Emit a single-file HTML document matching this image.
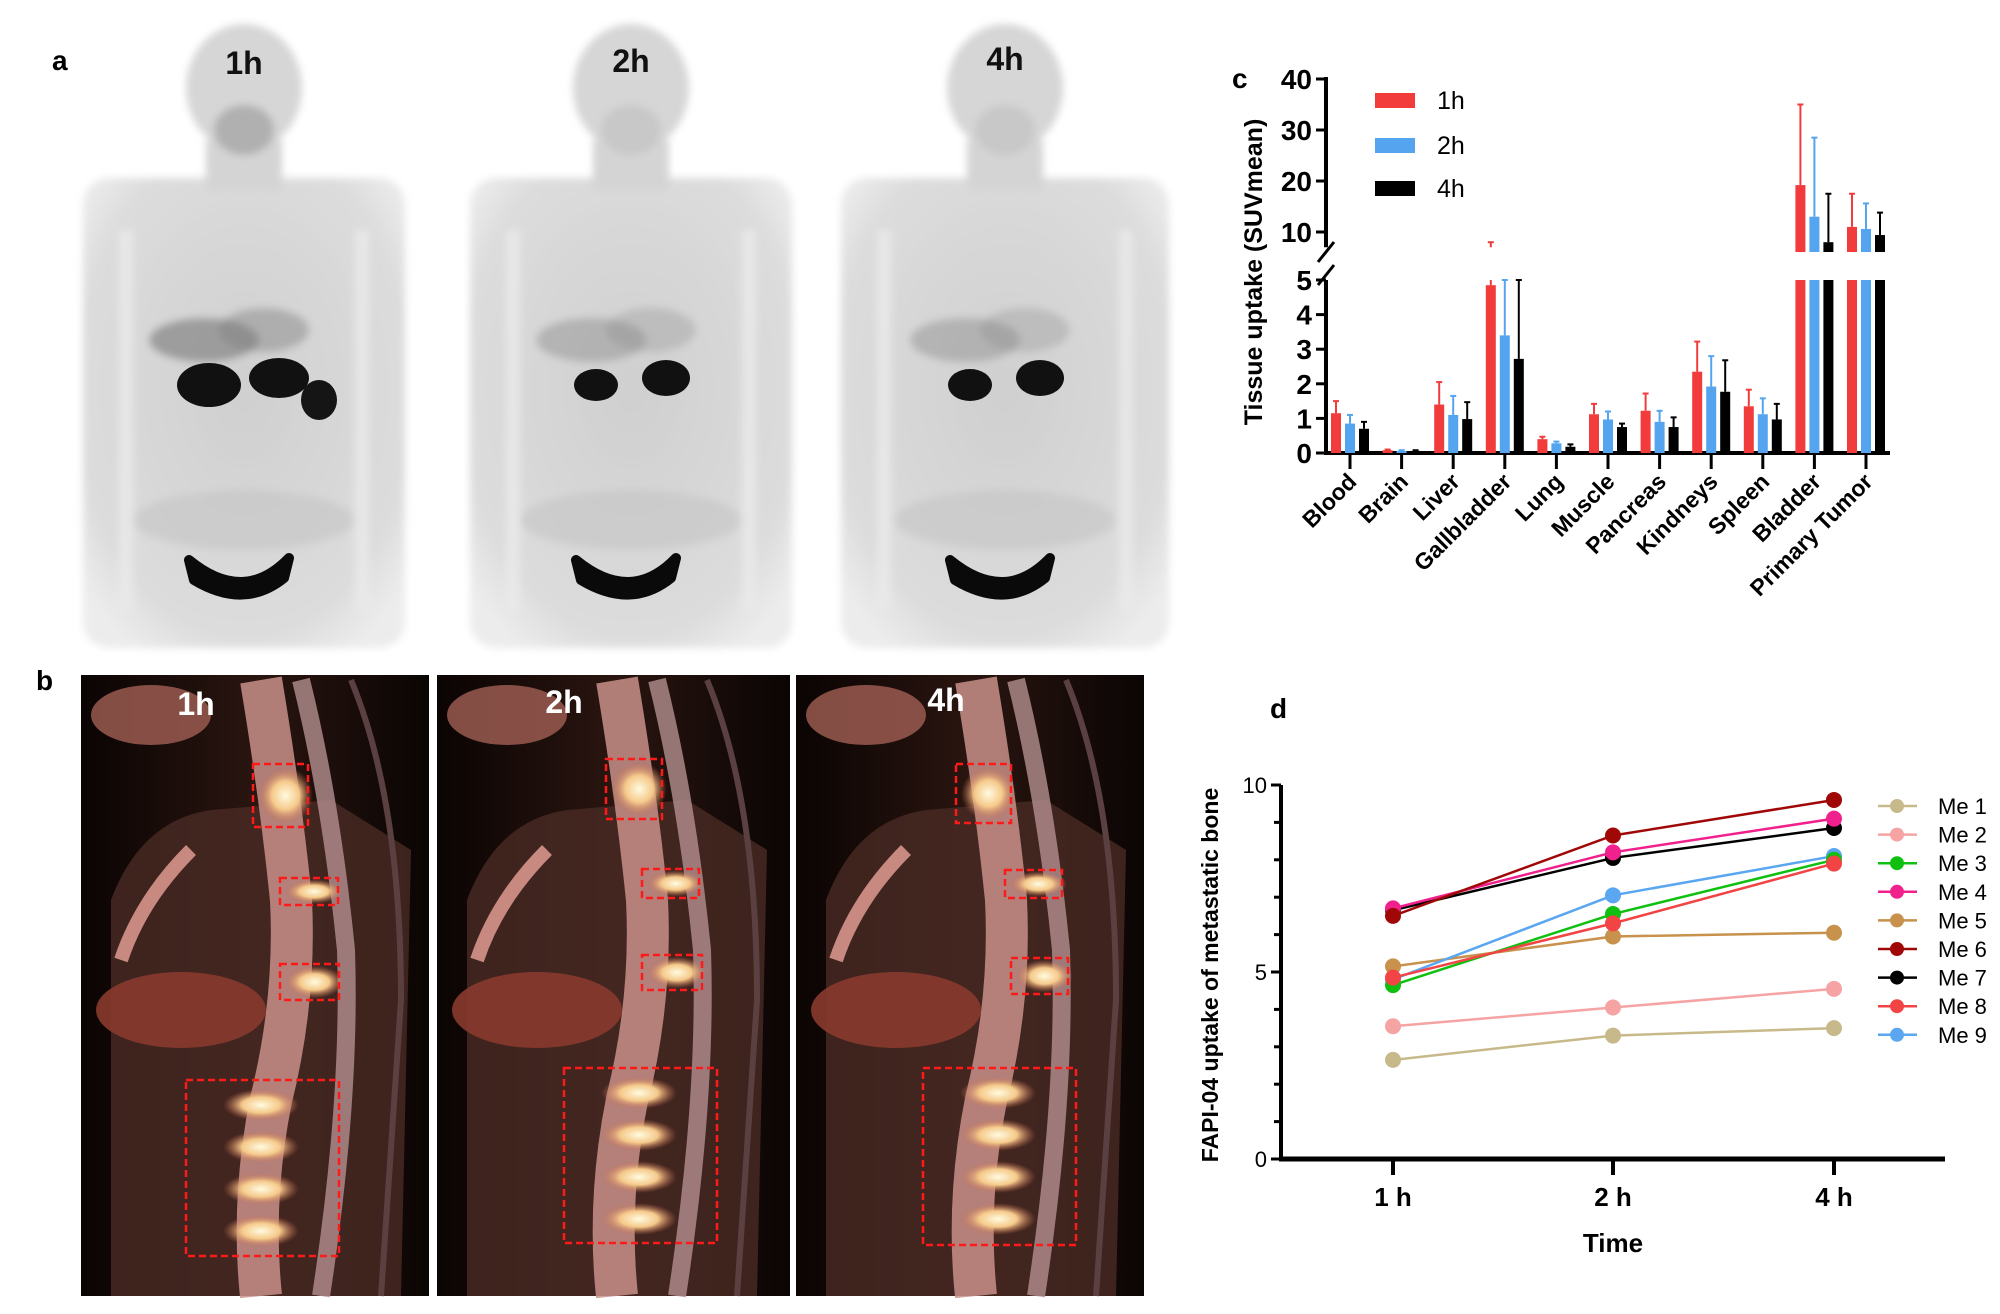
<!DOCTYPE html>
<html><head><meta charset="utf-8">
<style>
html,body{margin:0;padding:0;background:#fff;}
body{width:2000px;height:1309px;position:relative;overflow:hidden;font-family:"Liberation Sans",Arial,sans-serif;}
svg text{font-family:"Liberation Sans",Arial,sans-serif;}
</style></head>
<body>
<svg id="fig" width="2000" height="1309" viewBox="0 0 2000 1309" xmlns="http://www.w3.org/2000/svg">
<defs>
  <radialGradient id="bodyg" cx="50%" cy="45%" r="65%">
    <stop offset="0" stop-color="#cfcfcf"/><stop offset="0.8" stop-color="#dcdcdc"/><stop offset="1" stop-color="#ececec"/>
  </radialGradient>
  <radialGradient id="hot" cx="50%" cy="50%" r="50%">
    <stop offset="0" stop-color="#fffbe0"/><stop offset="0.5" stop-color="#f5c98a"/><stop offset="1" stop-color="#c46a50" stop-opacity="0"/>
  </radialGradient>
  <linearGradient id="dark" x1="0" x2="1">
    <stop offset="0" stop-color="#0a0403"/><stop offset="0.5" stop-color="#2a1510"/><stop offset="1" stop-color="#0a0504"/>
  </linearGradient>
  <filter id="blur3"><feGaussianBlur stdDeviation="4"/></filter>
</defs>

<text x="52" y="70" font-size="28" font-weight="bold">a</text>
<text x="36" y="690" font-size="28" font-weight="bold">b</text>
<text x="1232" y="88" font-size="28" font-weight="bold">c</text>
<text x="1270" y="718" font-size="28" font-weight="bold">d</text>

<g id="panelA"></g>
<g id="panelB"></g>
<g id="chartC"></g>
<g id="chartD"></g>
</svg>

<script>
// ---------- Chart C data ----------
const organs = ["Blood","Brain","Liver","Gallbladder","Lung","Muscle","Pancreas","Kindneys","Spleen","Bladder","Primary Tumor"];
const uptake1h = [1.15,0.08,1.4,4.85,0.4,1.12,1.22,2.35,1.35,19.2,11.0];
const uptake2h = [0.85,0.06,1.1,3.4,0.28,0.97,0.9,1.92,1.12,13.0,10.6];
const uptake4h = [0.7,0.06,0.98,2.72,0.18,0.75,0.75,1.77,0.97,8.0,9.4];
const err1h = [1.5,0.1,2.05,8.0,0.47,1.42,1.72,3.22,1.83,35.0,17.5];
const err2h = [1.1,0.08,1.65,5.0,0.33,1.2,1.22,2.8,1.58,28.5,15.6];
const err4h = [0.9,0.08,1.47,5.0,0.25,0.85,1.03,2.68,1.42,17.5,13.8];
const lowTicks = [0,1,2,3,4,5];
const highTicks = [10,20,30,40];
const seriesNames = ["1h","2h","4h"];

// ---------- Chart D data ----------
const timeLabels = ["1 h","2 h","4 h"];
const meNames = ["Me 1","Me 2","Me 3","Me 4","Me 5","Me 6","Me 7","Me 8","Me 9"];
const me1 = [2.65,3.3,3.5];
const me2 = [3.55,4.05,4.55];
const me3 = [4.65,6.55,8.0];
const me4 = [6.7,8.2,9.1];
const me5 = [5.15,5.95,6.05];
const me6 = [6.5,8.65,9.6];
const me7 = [6.65,8.05,8.85];
const me8 = [4.85,6.3,7.9];
const me9 = [4.8,7.05,8.1];
const dTicks = [0,5,10];

const NS="http://www.w3.org/2000/svg";
function mk(tag,attrs,parent){const e=document.createElementNS(NS,tag);for(const k in attrs)e.setAttribute(k,attrs[k]);parent.appendChild(e);return e;}

// ---------- Panel A ----------
(function(){
  const g=document.getElementById('panelA');
  const offs=[{x:79,lab:"1h",ly:62},{x:466,lab:"2h",ly:60},{x:837,lab:"4h",ly:58}];
  offs.forEach((o,i)=>{
    const b=mk('g',{transform:`translate(${o.x},0)`},g);
    
    
    const w=i==2?336:330;
    const sil=mk('g',{filter:'url(#blur3)'},b);
    mk('rect',{x:4,y:178,width:w-8,height:470,rx:26,fill:'url(#bodyg)'},sil);
    mk('rect',{x:w/2-38,y:140,width:76,height:50,fill:'#d4d4d4'},sil);
    mk('ellipse',{cx:w/2,cy:88,rx:58,ry:64,fill:'#d6d6d6'},sil);
    mk('rect',{x:40,y:230,width:14,height:380,fill:'#eaeaea',opacity:0.8},sil);
    mk('rect',{x:w-54,y:230,width:14,height:380,fill:'#eaeaea',opacity:0.8},sil);
    mk('ellipse',{cx:w/2,cy:130,rx:30,ry:25,fill:'#a0a0a0',opacity:i==0?0.7:0.25},sil);
    mk('ellipse',{cx:w/2,cy:520,rx:110,ry:30,fill:'#c4c4c4',opacity:0.6},sil);
    const gd=i==0?1:0.6;
    mk('ellipse',{cx:w/2-40,cy:340,rx:55,ry:22,fill:'#707070',opacity:0.55*gd},sil);
    mk('ellipse',{cx:w/2+20,cy:330,rx:45,ry:22,fill:'#808080',opacity:0.45*gd},sil);
    mk('ellipse',{cx:w/2-35,cy:385,rx:i==0?32:22,ry:i==0?22:16,fill:'#111'},b);
    mk('ellipse',{cx:w/2+35,cy:378,rx:i==0?30:24,ry:i==0?20:18,fill:'#111'},b);
    if(i==0) mk('ellipse',{cx:w/2+75,cy:400,rx:18,ry:20,fill:'#151515'},b);
    mk('path',{d:`M${w/2-55},560 Q${w/2},605 ${w/2+45},558 L${w/2+40},578 Q${w/2},610 ${w/2-50},580 Z`,fill:'#0a0a0a',stroke:'#0a0a0a','stroke-width':10,'stroke-linejoin':'round'},b);
    const t=mk('text',{x:w/2,y:o.ly+12,'font-size':32,'font-weight':'bold','text-anchor':'middle',fill:'#111'},b);
    t.textContent=o.lab;
    
    
  });
})();

// ---------- Panel B ----------
(function(){
  const g=document.getElementById('panelB');
  const pans=[{x:81,w:348,lab:"1h",boxes:[[253,764,55,63],[280,878,58,27],[280,964,59,36],[186,1080,153,176]]},
              {x:437,w:353,lab:"2h",boxes:[[606,759,56,60],[642,869,57,29],[642,955,60,35],[564,1068,153,175]]},
              {x:796,w:348,lab:"4h",boxes:[[956,764,55,59],[1005,870,57,28],[1011,958,57,36],[923,1068,153,177]]}];
  pans.forEach((p,i)=>{
    const b=mk('g',{},g);
    
    
    mk('rect',{x:p.x,y:675,width:p.w,height:621,fill:'url(#dark)'},b);
    mk('path',{d:`M${p.x+30},900 Q${p.x+60},820 ${p.x+130},810 L${p.x+250},800 L${p.x+330},850 L${p.x+320},1296 L${p.x+30},1296 Z`,fill:'#4a2a24',opacity:0.8},b);
    mk('ellipse',{cx:p.x+100,cy:1010,rx:85,ry:38,fill:'#8a3a2e',opacity:0.9},b);
    mk('ellipse',{cx:p.x+70,cy:715,rx:60,ry:30,fill:'#9a5a50',opacity:0.85},b);
    mk('path',{d:`M${p.x+110},850 Q${p.x+60},900 ${p.x+40},960`,stroke:'#c88a80','stroke-width':14,fill:'none'},b);
    mk('path',{d:`M${p.x+180},680 Q${p.x+200},800 ${p.x+210},900 Q${p.x+215},1000 ${p.x+190},1100 Q${p.x+170},1200 ${p.x+180},1296`,stroke:'#c9908a','stroke-width':42,fill:'none',opacity:0.85},b);
    mk('path',{d:`M${p.x+220},680 Q${p.x+250},800 ${p.x+265},950 Q${p.x+270},1100 ${p.x+240},1296`,stroke:'#b49090','stroke-width':18,fill:'none',opacity:0.8},b);
    mk('path',{d:`M${p.x+270},680 Q${p.x+320},800 ${p.x+320},1000 Q${p.x+310},1150 ${p.x+300},1296`,stroke:'#5a4040','stroke-width':6,fill:'none'},b);
    p.boxes.forEach((bx,k)=>{
      if(k<3) mk('ellipse',{cx:bx[0]+bx[2]/2+5,cy:bx[1]+bx[3]/2,rx:bx[2]/2,ry:bx[3]/2.2,fill:'url(#hot)'},b);
      else { for(let j=0;j<4;j++) mk('ellipse',{cx:bx[0]+75,cy:bx[1]+25+j*42,rx:38,ry:16,fill:'url(#hot)'},b); }
    });
    p.boxes.forEach(bx=>{
      const r=mk('rect',{x:bx[0],y:bx[1],width:bx[2],height:bx[3],fill:'none',stroke:'#ff1a1a','stroke-width':2.5,'stroke-dasharray':'7,4'},b);
      
      
    });
    const t=mk('text',{x:p.x+[115,127,150][i],y:[715,713,711][i],'font-size':32,'font-weight':'bold','text-anchor':'middle',fill:'#fff'},b);
    t.textContent=p.lab;
    
    
  });
})();

// ---------- Chart C ----------
(function(){
  const g=document.getElementById('chartC');
  const X0=1326, XEND=1890, Y0=453;
  const lowY=v=>Y0-v*34.6;
  const highTop=79, highBottom=252;
  const highY=v=>232-(v-10)*5.1;
  const catX=i=>1350+i*51.6;
  let a=mk('line',{x1:X0,y1:lowY(5),x2:X0,y2:Y0+2,stroke:'#000','stroke-width':4},g);
  
  a=mk('line',{x1:X0,y1:highTop-2,x2:X0,y2:highY(7),stroke:'#000','stroke-width':4},g);
  
  mk('line',{x1:X0-8,y1:262,x2:X0+8,y2:242,stroke:'#000','stroke-width':3},g);
  mk('line',{x1:X0-8,y1:285,x2:X0+8,y2:265,stroke:'#000','stroke-width':3},g);
  a=mk('line',{x1:X0-2,y1:Y0,x2:XEND,y2:Y0,stroke:'#000','stroke-width':4},g);
  
  lowTicks.forEach(v=>{
    mk('line',{x1:X0-10,y1:lowY(v),x2:X0,y2:lowY(v),stroke:'#000','stroke-width':3},g);
    const t=mk('text',{x:X0-14,y:lowY(v)+10,'font-size':28,'font-weight':'bold','text-anchor':'end'},g);
    t.textContent=v;
    
  });
  highTicks.forEach(v=>{
    mk('line',{x1:X0-10,y1:highY(v),x2:X0,y2:highY(v),stroke:'#000','stroke-width':3},g);
    const t=mk('text',{x:X0-14,y:highY(v)+10,'font-size':28,'font-weight':'bold','text-anchor':'end'},g);
    t.textContent=v;
    
  });
  const yt=mk('text',{x:0,y:0,'font-size':25,'font-weight':'bold','text-anchor':'middle',transform:'translate(1262,272) rotate(-90)'},g);
  yt.textContent='Tissue uptake (SUVmean)';
  
  const cols=['#f23c3c','#55a4f0','#000'];
  const vals=[uptake1h,uptake2h,uptake4h], errs=[err1h,err2h,err4h];
  function yOf(v){ if(v<=5) return lowY(v); return highY(Math.max(v,7)); }
  organs.forEach((o,i)=>{
    const cx=catX(i);
    mk('line',{x1:cx,y1:Y0,x2:cx,y2:Y0+16,stroke:'#000','stroke-width':3},g);
    const t=mk('text',{x:0,y:0,'font-size':23,'font-weight':'bold','text-anchor':'end',transform:`translate(${cx+8},${Y0+30}) rotate(-45)`},g);
    t.textContent=o;
    
    for(let s=0;s<3;s++){
      const v=vals[s][i], e=errs[s][i], bx=cx-14+s*14-5, col=cols[s];
      let ey=yOf(e);
      if(e>5 && v<=5 && e<7) ey=lowY(5);
      if(e>5 && v<=5 && e>=7){ mk('line',{x1:bx+5,y1:lowY(5),x2:bx+5,y2:lowY(v),stroke:col,'stroke-width':2},g); mk('line',{x1:bx+5,y1:yOf(e),x2:bx+5,y2:highY(7),stroke:col,'stroke-width':2},g);}
      else mk('line',{x1:bx+5,y1:ey,x2:bx+5,y2:yOf(v),stroke:col,'stroke-width':2},g);
      mk('line',{x1:bx+2,y1:yOf(e),x2:bx+8,y2:yOf(e),stroke:col,'stroke-width':2},g);
      let r;
      if(v<=5){ r=mk('rect',{x:bx,y:lowY(v),width:10,height:Y0-lowY(v),fill:col},g); }
      else {
        r=mk('rect',{x:bx,y:lowY(5),width:10,height:Y0-lowY(5),fill:col},g);
        const r2=mk('rect',{x:bx,y:highY(v),width:10,height:highBottom-highY(v),fill:col},g);
        
      }
      
    }
  });
  seriesNames.forEach((n,s)=>{
    const ly=[100,145,188][s];
    const r=mk('rect',{x:1375,y:ly-7,width:40,height:15,fill:cols[s]},g);
    
    const t=mk('text',{x:1437,y:ly+9,'font-size':25},g);
    t.textContent=n;
    
  });
})();

// ---------- Chart D ----------
(function(){
  const g=document.getElementById('chartD');
  const X0=1281, XEND=1945, Y0=1159, Y10=785;
  const y=v=>Y0-(v/10)*(Y0-Y10);
  const xs=[1393,1613,1834];
  const x=i=>xs[i];
  let a=mk('line',{x1:X0,y1:Y10,x2:X0,y2:Y0+2,stroke:'#000','stroke-width':4},g);
  
  a=mk('line',{x1:X0-2,y1:Y0,x2:XEND,y2:Y0,stroke:'#000','stroke-width':5},g);
  
  for(let v=0;v<=10;v++) mk('line',{x1:X0-(v%5==0?10:7),y1:y(v),x2:X0,y2:y(v),stroke:'#000','stroke-width':3},g);
  dTicks.forEach(v=>{
    const t=mk('text',{x:X0-14,y:y(v)+8,'font-size':22,'text-anchor':'end'},g);
    t.textContent=v;
    
  });
  timeLabels.forEach((l,i)=>{
    mk('line',{x1:x(i),y1:Y0,x2:x(i),y2:Y0+16,stroke:'#000','stroke-width':4},g);
    const t=mk('text',{x:x(i),y:1206,'font-size':26,'font-weight':'bold','text-anchor':'middle'},g);
    t.textContent=l;
    
  });
  const xt=mk('text',{x:1613,y:1252,'font-size':26,'font-weight':'bold','text-anchor':'middle'},g);
  xt.textContent='Time';
  
  const yt=mk('text',{x:0,y:0,'font-size':23,'font-weight':'bold','text-anchor':'middle',transform:'translate(1218,975) rotate(-90)'},g);
  yt.textContent='FAPI-04 uptake of metastatic bone';
  
  const series=[me1,me2,me3,me4,me5,me6,me7,me8,me9];
  const cols=['#c8b98a','#f5a3a3','#10c010','#f0208c','#c8914c','#a00808','#000','#f24444','#5aa6f0'];
  const order=[0,1,4,8,2,7,6,3,5];
  order.forEach(k=>{
    const d=series[k];
    const pts=d.map((v,i)=>x(i)+','+y(v)).join(' ');
    const pl=mk('polyline',{points:pts,fill:'none',stroke:cols[k],'stroke-width':2.5},g);
    
    
    d.forEach((v,i)=>{
      const c=mk('circle',{cx:x(i),cy:y(v),r:8,fill:cols[k]},g);
      
      
    });
  });
  meNames.forEach((n,k)=>{
    const ly=806+k*28.6;
    mk('line',{x1:1878,y1:ly,x2:1917,y2:ly,stroke:cols[k],'stroke-width':2.5},g);
    mk('circle',{cx:1897,cy:ly,r:7,fill:cols[k]},g);
    const t=mk('text',{x:1938,y:ly+8,'font-size':22},g);
    t.textContent=n;
    
    
  });
})();
</script>
</body></html>
